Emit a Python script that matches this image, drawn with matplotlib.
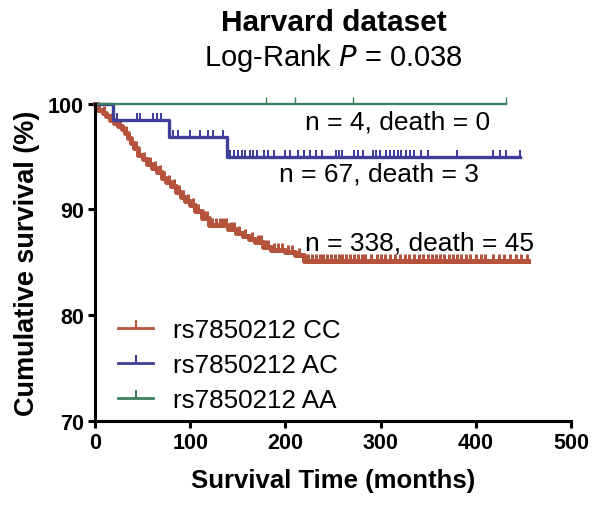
import matplotlib
matplotlib.use('Agg')
import matplotlib.pyplot as plt
from matplotlib.lines import Line2D
import numpy as np

plt.rcParams['font.family'] = ['Liberation Sans', 'DejaVu Sans']

# step knots (time in months, survival in %)
cc_times = [0, 3, 8, 12, 16, 20, 24, 28, 32, 35, 38, 41, 45, 50, 55, 60, 65, 70, 75, 80,
            85, 90, 95, 100, 105, 112, 120, 140, 148, 155, 162, 168, 176, 185, 200, 210, 220, 455]
cc_surv = [100, 99.4, 99.1, 98.8, 98.5, 98.2, 97.9, 97.6, 97.2, 96.8, 96.3, 95.8, 95.2, 94.8,
           94.3, 93.9, 93.5, 93.0, 92.6, 92.2, 91.7, 91.2, 90.8, 90.4, 89.9, 89.2, 88.5, 88.2,
           87.8, 87.5, 87.2, 86.9, 86.5, 86.2, 86.0, 85.7, 85.1, 85.1]
cc_censor = [10, 18, 26, 33, 43, 52, 58, 63, 68, 73, 78, 83, 88, 93, 98, 103, 108, 115, 118,
             123, 127, 131, 135, 138, 143, 146, 151, 158, 165, 171, 174, 179, 182, 188, 192,
             196, 203, 207, 214, 224, 228, 232, 236, 240, 244, 248, 252, 256, 260, 264, 268,
             272, 276, 280, 284, 290, 296, 300, 305, 310, 315, 320, 326, 330, 335, 340, 345,
             350, 354, 358, 362, 367, 372, 376, 380, 385, 390, 394, 400, 405, 410, 418, 424,
             430, 436, 442, 448, 454]

ac_times = [0, 19, 78, 139, 446]
ac_surv = [100, 98.5, 96.9, 95.0, 95.0]
ac_censor = [23, 44, 47, 61, 65, 69, 82, 87, 100, 110, 119, 124, 134, 142, 146, 150, 154,
             158, 163, 166, 170, 178, 182, 188, 200, 205, 213, 220, 226, 232, 238, 253, 256,
             260, 272, 276, 282, 292, 295, 299, 306, 310, 314, 318, 322, 327, 331, 335, 342,
             350, 380, 418, 425, 432, 446]

aa_times = [0, 432]
aa_surv = [100, 100]
aa_censor = [180, 210, 271, 432]

labels = ['rs7850212 CC', 'rs7850212 AC', 'rs7850212 AA']
notes = ['n = 338, death = 45', 'n = 67, death = 3', 'n = 4, death = 0']

red = '#B5533C'
blue = '#3F3F9A'
green = '#3F8060'


def surv_at(t, times, surv):
    i = np.searchsorted(times, t, side='right') - 1
    return surv[i]


fig = plt.figure(figsize=(6.01, 5.06), dpi=100)
ax = fig.add_axes([0.158, 0.166, 0.792, 0.627])

groups = [
    (cc_times, cc_surv, cc_censor, red, 3.6),
    (ac_times, ac_surv, ac_censor, blue, 2.4),
    (aa_times, aa_surv, aa_censor, green, 1.7),
]
handles = []
for name, (times, surv, cens, col, lw) in zip(labels, groups):
    ax.step(times, surv, where='post', color=col, lw=lw, clip_on=False)
    cy = [surv_at(t, times, surv) for t in cens]
    ax.plot(cens, cy, ls='none', marker=2, color=col, markersize=5,
            markeredgewidth=lw * 0.6, clip_on=False)
    handles.append(Line2D([], [], color=col, lw=2, marker=2, markersize=6,
                          markeredgewidth=1.5))

ax.set_xlim(0, 500)
ax.set_ylim(70, 100)
ax.set_xticks([0, 100, 200, 300, 400, 500])
ax.set_yticks([70, 80, 90, 100])
for s in ['top', 'right']:
    ax.spines[s].set_visible(False)
for s in ['left', 'bottom']:
    ax.spines[s].set_linewidth(2.2)
ax.tick_params(width=2.2, length=5, labelsize=15.5, pad=3)
for lab in ax.get_xticklabels() + ax.get_yticklabels():
    lab.set_fontweight('bold')

ax.set_xlabel('Survival Time (months)', fontsize=18.5, fontweight='bold', labelpad=11)
ax.set_ylabel('Cumulative survival (%)', fontsize=19.5, fontweight='bold', labelpad=6)

fig.text(0.555, 0.955, 'Harvard dataset', ha='center', va='center',
         fontsize=21.5, fontweight='bold')
fig.text(0.555, 0.885, 'Log-Rank $\\it{P}$ = 0.038', ha='center', va='center', fontsize=21)

ax.text(220.5, 98.3, notes[2], fontsize=19, va='center')
ax.text(193, 93.45, notes[1], fontsize=19, va='center')
ax.text(220.5, 86.9, notes[0], fontsize=19, va='center')

ax.legend(handles, labels, loc='lower left', bbox_to_anchor=(0.0, -0.045), frameon=False,
          fontsize=18.7, handlelength=1.35, labelspacing=0.42, handletextpad=0.75)

fig.savefig('out.png', dpi=100)
